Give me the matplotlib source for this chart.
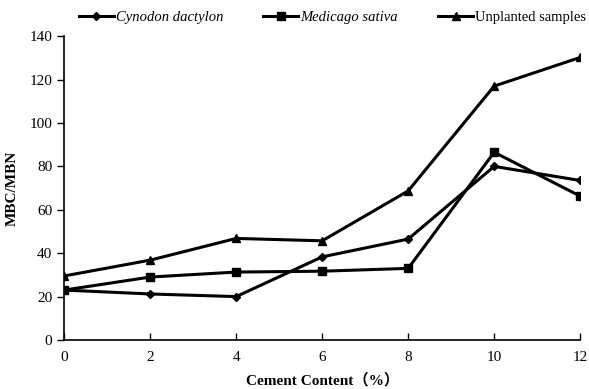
import numpy as np
import matplotlib
matplotlib.use("Agg")
import matplotlib.pyplot as plt

plt.rcParams['font.family'] = ['Liberation Serif', 'Noto Sans CJK SC']

cement = [0, 2, 4, 6, 8, 10, 12]
cynodon = [23, 21.2, 20, 38.3, 46.5, 80, 73.5]
medicago = [23, 29, 31.3, 31.7, 33, 86.5, 66.3]
unplanted = [29.5, 36.8, 46.8, 45.7, 68.7, 117, 130.2]

fig = plt.figure(figsize=(5.89, 3.89), dpi=100)
ax = fig.add_axes([0.109, 0.126, 0.876, 0.781])

lw = 2.2
ax.plot(cement, cynodon, color='black', lw=lw, marker='D', ms=4.5, label='Cynodon dactylon')
ax.plot(cement, medicago, color='black', lw=lw, marker='s', ms=6, label='Medicago sativa')
ax.plot(cement, unplanted, color='black', lw=lw, marker='^', ms=6, label='Unplanted samples')

ax.set_xlim(0, 12)
ax.set_ylim(0, 140)
ax.set_xticks(np.arange(0, 13, 2))
ax.set_yticks(np.arange(0, 141, 20))
ax.spines['top'].set_visible(False)
ax.spines['right'].set_visible(False)
ax.spines['left'].set_linewidth(1.2)
ax.spines['bottom'].set_linewidth(1.2)
ax.tick_params(axis='x', direction='in', length=5, width=1, labelsize=11, pad=8)
ax.tick_params(axis='y', direction='out', length=5, width=1, labelsize=11)

ax.set_xlabel('Cement Content（%）', fontsize=11, fontweight='bold', labelpad=6)
ax.set_ylabel('MBC/MBN', fontsize=11, fontweight='bold', labelpad=8)

leg = ax.legend(loc='center', bbox_to_anchor=(0.52, 1.062), ncol=3, frameon=False,
                fontsize=10.5, handlelength=2.4, columnspacing=2.75, handletextpad=0.15,
                borderaxespad=0, borderpad=0)
for t in leg.get_texts()[:2]:
    t.set_fontstyle('italic')

fig.savefig('out.png', dpi=100)
